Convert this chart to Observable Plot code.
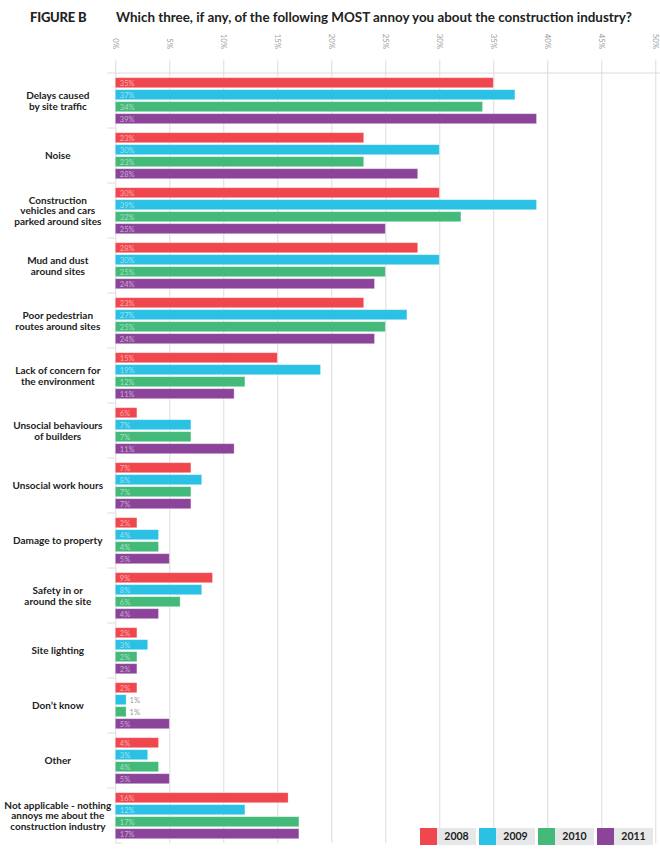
<!DOCTYPE html>
<html><head><meta charset="utf-8">
<script src="https://cdn.jsdelivr.net/npm/d3@7"></script>
<script src="https://cdn.jsdelivr.net/npm/@observablehq/plot@0.6"></script>
<style>
body{margin:0;background:#fff;font-family:Lato,"Noto Sans",sans-serif;}
#wrap{position:relative;width:660px;height:858px;overflow:hidden;}
#title{position:relative;height:30px;}
#title .fig{position:absolute;left:30px;top:9px;font-size:13px;font-weight:900;color:#222;letter-spacing:-0.2px;}
#title .q{position:absolute;left:116px;top:8.5px;font-size:13.4px;font-weight:700;color:#222;letter-spacing:0px;}
#chart svg{display:block;}
#legend{position:absolute;left:420px;top:828px;display:flex;}
#legend .item{display:flex;height:17px;margin-right:3px;}
#legend .sw{width:17px;height:17px;}
#legend .lab{width:39px;height:17px;background:#E6E7E8;font-size:10.5px;font-weight:700;color:#222;line-height:17px;text-align:center;}
g[aria-label="cat-labels"] text{letter-spacing:-0.2px;}
</style></head><body>
<div id="wrap">
<div id="title"><span class="fig">FIGURE B</span><span class="q">Which three, if any, of the following MOST annoy you about the construction industry?</span></div>
<div id="chart"></div>
<div id="legend"></div>
</div>
<script>
const categories = [
  "Delays caused\nby site traffic",
  "Noise",
  "Construction\nvehicles and cars\nparked around sites",
  "Mud and dust\naround sites",
  "Poor pedestrian\nroutes around sites",
  "Lack of concern for\nthe environment",
  "Unsocial behaviours\nof builders",
  "Unsocial work hours",
  "Damage to property",
  "Safety in or\naround the site",
  "Site lighting",
  "Don\u2019t know",
  "Other",
  "Not applicable - nothing\nannoys me about the\nconstruction industry"
];
const years = ["2008", "2009", "2010", "2011"];
const colors = ["#F0474E", "#2AC1E5", "#43B97A", "#8B4499"];
const v2008 = [35, 23, 30, 28, 23, 15, 2, 7, 2, 9, 2, 2, 4, 16];
const v2009 = [37, 30, 39, 30, 27, 19, 7, 8, 4, 8, 3, 1, 3, 12];
const v2010 = [34, 23, 32, 25, 25, 12, 7, 7, 4, 6, 2, 1, 4, 17];
const v2011 = [39, 28, 25, 24, 24, 11, 11, 7, 5, 4, 2, 5, 5, 17];
// printed label differs from bar length in the original
const labelOverrides = {"Unsocial behaviours\nof builders|2008": "6%"};
const xTicks = [0, 5, 10, 15, 20, 25, 30, 35, 40, 45, 50];

const series = [v2008, v2009, v2010, v2011];
const data = [];
categories.forEach((c, i) => years.forEach((y, j) => {
  const v = series[j][i];
  data.push({cat: c, year: y, value: v, label: labelOverrides[c + "|" + y] ?? (v + "%")});
}));
const inside = data.filter(d => d.value >= 2);
const outside = data.filter(d => d.value < 2);

const chart = Plot.plot({
  width: 660,
  height: 828,
  marginLeft: 115.3,
  marginRight: 4.7,
  marginTop: 42.3,
  marginBottom: 14,
  style: {fontFamily: "Lato, 'Noto Sans', sans-serif", background: "#fff", overflow: "visible"},
  x: {domain: [0, 50], ticks: xTicks, label: null},
  y: {type: "band", domain: years, paddingInner: 0.14, paddingOuter: 0.26, axis: null},
  fy: {domain: categories, padding: 0, axis: null},
  color: {domain: years, range: colors},
  marks: [
    Plot.gridX(xTicks, {stroke: "#dcdcdc", strokeOpacity: 1, strokeWidth: 1}),
    Plot.axisX(xTicks, {anchor: "top", tickSize: 14.5, tickPadding: 10, stroke: "#dcdcdc", strokeOpacity: 1,
      tickRotate: 90, tickFormat: d => d + "%", fontSize: 7.8, fill: "#9a9a9a", label: null}),
    Plot.barX(data, {fy: "cat", y: "year", x: "value", fill: "year",
      stroke: "#fff", strokeOpacity: 0.35, strokeWidth: 0.8}),
    Plot.text(inside, {fy: "cat", y: "year", x: 0, text: "label", dx: 4, textAnchor: "start",
      fill: "#fff", fillOpacity: 0.55, fontSize: 7.5}),
    Plot.text(outside, {fy: "cat", y: "year", x: "value", text: "label", dx: 3, textAnchor: "start",
      fill: "#999", fontSize: 7.5}),
    Plot.text(categories, {fy: d => d, text: d => d, frameAnchor: "left", dx: -58, textAnchor: "middle",
      fontSize: 10, fontWeight: 700, fill: "#222", lineHeight: 1.05, ariaLabel: "cat-labels"})
  ]
});
document.getElementById("chart").appendChild(chart);

// group separators, positioned through Plot's own scales
const fy = chart.scale("fy");
const xs = chart.scale("x");
const x0 = xs.apply(0);
const svg = d3.select(chart);
const sep = svg.append("g").attr("stroke", "#dcdcdc").attr("stroke-width", 1);
categories.forEach((c, i) => {
  const yy = fy.apply(c);
  sep.append("line").attr("x1", x0 - 8).attr("x2", i === 0 ? 660 : x0).attr("y1", yy).attr("y2", yy);
});
const last = categories[categories.length - 1];
const yb = fy.apply(last) + fy.bandwidth;
sep.append("line").attr("x1", x0).attr("x2", x0 + 7).attr("y1", yb).attr("y2", yb);

// legend
const leg = d3.select("#legend");
years.forEach((y, j) => {
  const it = leg.append("div").attr("class", "item");
  it.append("div").attr("class", "sw").style("background", colors[j]);
  it.append("div").attr("class", "lab").text(y);
});
</script>
</body></html>
